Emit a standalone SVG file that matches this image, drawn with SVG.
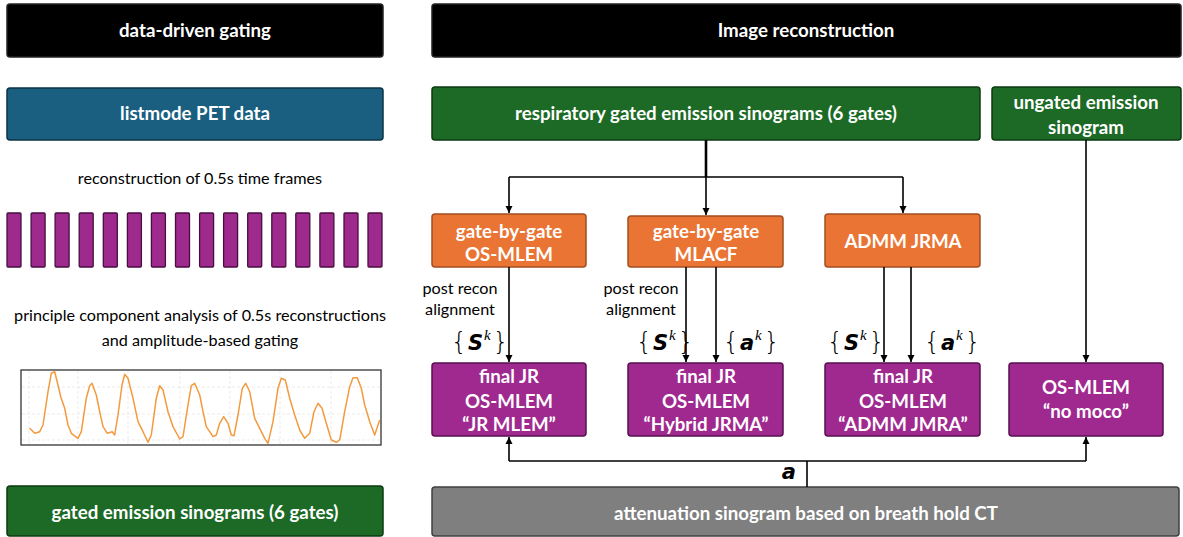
<svg xmlns="http://www.w3.org/2000/svg" width="1183" height="537" viewBox="0 0 1183 537">
<defs>
<style>
.b{font-family:Lato,"Open Sans","Liberation Sans",sans-serif;font-weight:bold;font-size:18.7px;fill:#fff;text-anchor:middle}
.r{font-family:Lato,"Open Sans","Liberation Sans",sans-serif;font-size:16.2px;fill:#000;text-anchor:middle}
.m{font-family:"DejaVu Sans","Liberation Sans",sans-serif;font-size:21px;fill:#000}
.br{font-family:"DejaVu Sans",sans-serif;font-size:25px;font-weight:200;font-style:normal}
.sup{font-family:"Liberation Serif",serif;font-size:15px;font-style:italic;font-weight:normal}
.blk{fill:#000;stroke:#222;stroke-width:1.5}
.blu{fill:#1a5f80;stroke:#0c3345;stroke-width:1.5}
.grn{fill:#1c6a25;stroke:#0d3a12;stroke-width:1.5}
.org{fill:#e97434;stroke:#a24e20;stroke-width:1.5}
.pur{fill:#a0298f;stroke:#561050;stroke-width:1.5}
.gry{fill:#7f7f7f;stroke:#404040;stroke-width:1.5}
.bar{fill:#9e2a8e;stroke:#4a0d42;stroke-width:1.3}
.c{fill:none;stroke:#000;stroke-width:1.6}
.ct{fill:none;stroke:#000;stroke-width:2.6}
</style>
<marker id="ah" viewBox="0 0 10 10" refX="10" refY="5" markerWidth="4.5" markerHeight="4.5" orient="auto" markerUnits="strokeWidth"><path d="M0,0 L10,5 L0,10 z" fill="#000"/></marker>
</defs>

<g id="hdr-left"><rect class="blk" x="7" y="4" width="376" height="53" rx="3"/><text class="b" x="195" y="37">data-driven gating</text></g>
<g id="hdr-right"><rect class="blk" x="432" y="4" width="749" height="53" rx="3"/><text class="b" x="806" y="37">Image reconstruction</text></g>

<g id="listmode"><rect class="blu" x="7" y="88" width="376" height="52" rx="3"/><text class="b" x="195" y="120">listmode PET data</text></g>

<g id="recon-frames">
<text class="r" x="200" y="184">reconstruction of 0.5s time frames</text>
<rect class="bar" x="7" y="213" width="14" height="54" rx="1"/>
<rect class="bar" x="31.1" y="213" width="14" height="54" rx="1"/>
<rect class="bar" x="55.1" y="213" width="14" height="54" rx="1"/>
<rect class="bar" x="79.2" y="213" width="14" height="54" rx="1"/>
<rect class="bar" x="103.3" y="213" width="14" height="54" rx="1"/>
<rect class="bar" x="127.4" y="213" width="14" height="54" rx="1"/>
<rect class="bar" x="151.4" y="213" width="14" height="54" rx="1"/>
<rect class="bar" x="175.5" y="213" width="14" height="54" rx="1"/>
<rect class="bar" x="199.6" y="213" width="14" height="54" rx="1"/>
<rect class="bar" x="223.6" y="213" width="14" height="54" rx="1"/>
<rect class="bar" x="247.7" y="213" width="14" height="54" rx="1"/>
<rect class="bar" x="271.8" y="213" width="14" height="54" rx="1"/>
<rect class="bar" x="295.8" y="213" width="14" height="54" rx="1"/>
<rect class="bar" x="319.9" y="213" width="14" height="54" rx="1"/>
<rect class="bar" x="344" y="213" width="14" height="54" rx="1"/>
<rect class="bar" x="368" y="213" width="14" height="54" rx="1"/>
</g>

<g id="pca">
<text class="r" x="200" y="321">principle component analysis of 0.5s reconstructions</text>
<text class="r" x="200" y="346">and amplitude-based gating</text>
</g>

<g id="chart">
<rect x="21" y="370" width="360" height="75" fill="#fff" stroke="#333" stroke-width="1.3"/>
<g stroke="#e6e6e6" stroke-width="0.8" stroke-dasharray="3,2" fill="none">
<path d="M29,371V444M78,371V444M128,371V444M180,371V444M230,371V444M280,371V444M331,371V444"/>
<path d="M22,387H380M22,414H380M22,440H380"/>
</g>
<polyline fill="none" stroke="#f39a3e" stroke-width="1.5" stroke-linejoin="round" points="29.7,428.3 34.7,433.3 39.7,431.7 43,425 48,391.7 51.3,373.3 54.7,371.7 58,385 60.7,396.7 64.7,408.3 68,425 71.3,433.3 78,438.3 81.3,431.7 86.3,398.3 89.7,385.7 92,383.3 96.3,395 99.7,411.7 103,426.7 107.3,433.3 112.3,431.7 114.7,435 118,415 122,385 124.7,374.3 128,378.3 133,398.3 138,421.7 143,431.7 148,442.3 151.3,435 156.3,398.3 159.7,385.7 163,390 168,411.7 173,426.7 179.7,439 183,436.7 188,405 191.3,385.7 194.7,383.3 199.7,395 203,411.7 206.3,426.7 213,436.7 216.3,435 219.7,423.3 223.7,416.7 228,423.3 231.3,435 234,435.7 238,415 242.3,388.3 245.7,383.3 249.7,391.7 254.7,418.3 259.7,428.3 264.7,438.3 268,443.3 273,421.7 278,388.3 281.3,378.3 285.3,380 289.7,398.3 294.7,415 299.7,430 304.7,438.3 309.7,433.3 314,411.7 318,403.3 322,408.3 326.3,423.3 331.3,440 336.3,442.3 339.7,440 344.7,411.7 349.7,386.7 353,377.7 357.3,377.7 361.3,388.3 364.7,405 369.7,421.7 374.7,435 379.7,420"/>
</g>

<g id="gated-left"><rect class="grn" x="7" y="486" width="376" height="50" rx="3"/><text class="b" x="195" y="519">gated emission sinograms (6 gates)</text></g>

<g id="resp-gated"><rect class="grn" x="432" y="87" width="548" height="53" rx="3"/><text class="b" x="706" y="120">respiratory gated emission sinograms (6 gates)</text></g>
<g id="ungated"><rect class="grn" x="992" y="87" width="189" height="53" rx="3"/><text class="b" x="1086" y="109">ungated emission</text><text class="b" x="1086" y="134">sinogram</text></g>

<g id="gbg-osmlem"><rect class="org" x="432" y="214" width="154" height="53" rx="3"/><text class="b" x="509" y="238">gate-by-gate</text><text class="b" x="509" y="261">OS-MLEM</text></g>
<g id="gbg-mlacf"><rect class="org" x="628" y="216" width="155" height="51" rx="3"/><text class="b" x="706" y="238">gate-by-gate</text><text class="b" x="706" y="261">MLACF</text></g>
<g id="admm"><rect class="org" x="825" y="214" width="155" height="53" rx="3"/><text class="b" x="903" y="248">ADMM JRMA</text></g>

<g id="final-jrmlem"><rect class="pur" x="432" y="363" width="154" height="73" rx="3"/><text class="b" x="509" y="383">final JR</text><text class="b" x="509" y="408">OS-MLEM</text><text class="b" x="509" y="431">“JR MLEM”</text></g>
<g id="final-hybrid"><rect class="pur" x="628" y="363" width="155" height="73" rx="3"/><text class="b" x="706" y="383">final JR</text><text class="b" x="706" y="408">OS-MLEM</text><text class="b" x="706" y="431">“Hybrid JRMA”</text></g>
<g id="final-admm"><rect class="pur" x="825" y="363" width="155" height="73" rx="3"/><text class="b" x="903" y="383">final JR</text><text class="b" x="903" y="408">OS-MLEM</text><text class="b" x="903" y="431">“ADMM JMRA”</text></g>
<g id="nomoco"><rect class="pur" x="1009" y="363" width="154" height="73" rx="3"/><text class="b" x="1086" y="394">OS-MLEM</text><text class="b" x="1086" y="418">“no moco”</text></g>

<g id="atten"><rect class="gry" x="432" y="487" width="747" height="49" rx="3"/><text class="b" x="806" y="520">attenuation sinogram based on breath hold CT</text></g>

<g id="connectors">
<path class="ct" d="M706,140V177"/>
<path class="c" d="M509,177H903"/>
<path class="c" d="M509,177V213" marker-end="url(#ah)"/>
<path class="c" d="M706,177V215" marker-end="url(#ah)"/>
<path class="c" d="M903,177V213" marker-end="url(#ah)"/>
<path class="c" d="M509,267V362" marker-end="url(#ah)"/>
<path class="c" d="M686,267V362" marker-end="url(#ah)"/>
<path class="c" d="M716,267V362" marker-end="url(#ah)"/>
<path class="c" d="M884,267V362" marker-end="url(#ah)"/>
<path class="c" d="M911,267V362" marker-end="url(#ah)"/>
<path class="c" d="M1086,140V362" marker-end="url(#ah)"/>
<path class="c" d="M807,487V461"/>
<path class="c" d="M509,461H1086"/>
<path class="c" d="M509,461V437" marker-end="url(#ah)"/>
<path class="c" d="M1086,461V437" marker-end="url(#ah)"/>
</g>

<g id="labels">
<text class="r" x="460" y="294">post recon</text>
<text class="r" x="460" y="315">alignment</text>
<text class="r" x="641" y="294">post recon</text>
<text class="r" x="641" y="315">alignment</text>
<text class="m" x="451" y="350"><tspan class="br">{</tspan><tspan font-weight="bold" font-style="italic" dx="1">S</tspan><tspan class="sup" dy="-10" dx="1">k</tspan><tspan class="br" dy="10" dx="2">}</tspan></text>
<text class="m" x="636" y="350"><tspan class="br">{</tspan><tspan font-weight="bold" font-style="italic" dx="1">S</tspan><tspan class="sup" dy="-10" dx="1">k</tspan><tspan class="br" dy="10" dx="2">}</tspan></text>
<text class="m" x="723" y="350"><tspan class="br">{</tspan><tspan font-weight="bold" font-style="italic" dx="1">a</tspan><tspan class="sup" dy="-10" dx="1">k</tspan><tspan class="br" dy="10" dx="2">}</tspan></text>
<text class="m" x="827" y="350"><tspan class="br">{</tspan><tspan font-weight="bold" font-style="italic" dx="1">S</tspan><tspan class="sup" dy="-10" dx="1">k</tspan><tspan class="br" dy="10" dx="2">}</tspan></text>
<text class="m" x="924" y="350"><tspan class="br">{</tspan><tspan font-weight="bold" font-style="italic" dx="1">a</tspan><tspan class="sup" dy="-10" dx="1">k</tspan><tspan class="br" dy="10" dx="2">}</tspan></text>
<text class="m" x="796" y="479" text-anchor="end" font-weight="bold" font-style="italic" font-size="19">a</text>
</g>
</svg>
